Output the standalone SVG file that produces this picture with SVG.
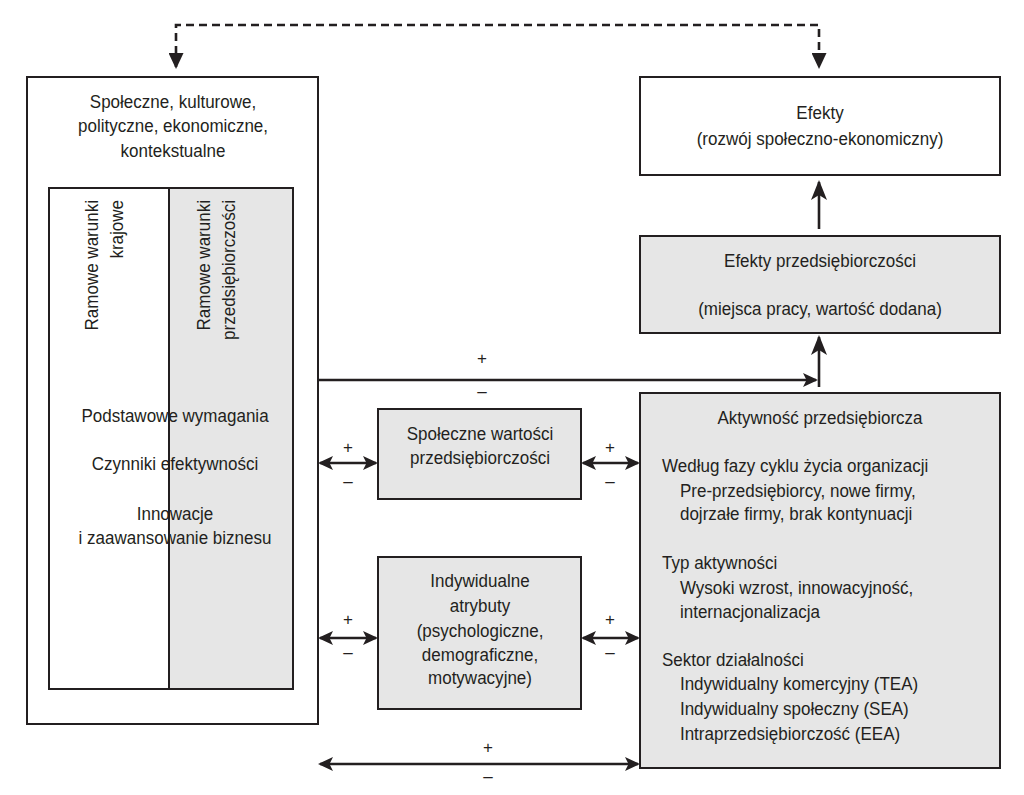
<svg xmlns="http://www.w3.org/2000/svg" width="1024" height="795" viewBox="0 0 1024 795">
<style>
.box{stroke:#231f20;stroke-width:2;}
.w{fill:#ffffff;}
.g{fill:#e6e6e6;}
.t{font-family:"Liberation Sans",Arial,sans-serif;font-size:18.5px;fill:#231f20;}
.c{text-anchor:middle;}
.s{font-family:"Liberation Sans",Arial,sans-serif;font-size:17px;fill:#231f20;text-anchor:middle;}
.ln{fill:none;stroke:#231f20;stroke-width:2.6;}
.dash{stroke-dasharray:8 5;}
</style>
<defs>
<marker id="ah" markerUnits="userSpaceOnUse" markerWidth="15" markerHeight="14" refX="13" refY="7" orient="auto-start-reverse">
<path d="M0,0 L15,7 L0,14 L3.5,7 z" fill="#231f20"/>
</marker>
<marker id="ahBig" markerUnits="userSpaceOnUse" markerWidth="20" markerHeight="16" refX="18" refY="8" orient="auto-start-reverse">
<path d="M0,0 L20,8 L0,16 L5,8 z" fill="#231f20"/>
</marker>
<marker id="ahDash" markerUnits="userSpaceOnUse" markerWidth="16" markerHeight="15" refX="14" refY="7.5" orient="auto-start-reverse">
<path d="M0,0 L16,7.5 L0,15 z" fill="#231f20"/>
</marker>
</defs>
<rect width="1024" height="795" fill="#ffffff"/>

<g id="context">
<rect class="box w" x="27" y="77" width="291" height="647"/>
<g transform="translate(173 0) scale(0.92 1)">
<text class="t c" x="0" y="108">Społeczne, kulturowe,</text>
<text class="t c" x="0" y="132">polityczne, ekonomiczne,</text>
<text class="t c" x="0" y="157">kontekstualne</text>
</g>
</g>

<g id="framework">
<rect class="box w" x="49" y="188" width="120" height="501"/>
<rect class="box g" x="169" y="188" width="124" height="501"/>
<text class="t" text-anchor="end" transform="translate(98 200) rotate(-90) scale(0.92 1)">Ramowe warunki</text>
<text class="t" text-anchor="end" transform="translate(123 200) rotate(-90) scale(0.92 1)">krajowe</text>
<text class="t" text-anchor="end" transform="translate(210 200) rotate(-90) scale(0.92 1)">Ramowe warunki</text>
<text class="t" text-anchor="end" transform="translate(235 200) rotate(-90) scale(0.92 1)">przedsiębiorczości</text>
<g transform="translate(175 0) scale(0.92 1)">
<text class="t c" x="0" y="422">Podstawowe wymagania</text>
<text class="t c" x="0" y="470">Czynniki efektywności</text>
<text class="t c" x="0" y="520">Innowacje</text>
<text class="t c" x="0" y="544">i zaawansowanie biznesu</text>
</g>
</g>

<g id="efekty">
<rect class="box w" x="640" y="77" width="360" height="98"/>
<g transform="translate(820 0) scale(0.92 1)">
<text class="t c" x="0" y="119">Efekty</text>
<text class="t c" x="0" y="145">(rozwój społeczno-ekonomiczny)</text>
</g>
</g>

<g id="efekty-przedsiebiorczosci">
<rect class="box g" x="640" y="236" width="360" height="97"/>
<g transform="translate(820 0) scale(0.92 1)">
<text class="t c" x="0" y="267">Efekty przedsiębiorczości</text>
<text class="t c" x="0" y="315">(miejsca pracy, wartość dodana)</text>
</g>
</g>

<g id="wartosci">
<rect class="box g" x="378" y="409" width="203" height="90"/>
<g transform="translate(480 0) scale(0.92 1)">
<text class="t c" x="0" y="440">Społeczne wartości</text>
<text class="t c" x="0" y="464">przedsiębiorczości</text>
</g>
</g>

<g id="atrybuty">
<rect class="box g" x="378" y="557" width="203" height="152"/>
<g transform="translate(480 0) scale(0.92 1)">
<text class="t c" x="0" y="587">Indywidualne</text>
<text class="t c" x="0" y="612">atrybuty</text>
<text class="t c" x="0" y="637">(psychologiczne,</text>
<text class="t c" x="0" y="661">demograficzne,</text>
<text class="t c" x="0" y="684">motywacyjne)</text>
</g>
</g>

<g id="aktywnosc">
<rect class="box g" x="640" y="393" width="360" height="375"/>
<g transform="translate(820 0) scale(0.92 1)">
<text class="t c" x="0" y="424">Aktywność przedsiębiorcza</text>
</g>
<g transform="translate(662 0) scale(0.92 1)">
<text class="t" x="0" y="472">Według fazy cyklu życia organizacji</text>
<text class="t" x="19.5" y="497">Pre-przedsiębiorcy, nowe firmy,</text>
<text class="t" x="19.5" y="520">dojrzałe firmy, brak kontynuacji</text>
<text class="t" x="0" y="569">Typ aktywności</text>
<text class="t" x="19.5" y="594">Wysoki wzrost, innowacyjność,</text>
<text class="t" x="19.5" y="618">internacjonalizacja</text>
<text class="t" x="0" y="666">Sektor działalności</text>
<text class="t" x="19.5" y="690">Indywidualny komercyjny (TEA)</text>
<text class="t" x="19.5" y="715">Indywidualny społeczny (SEA)</text>
<text class="t" x="19.5" y="740">Intraprzedsiębiorczość (EEA)</text>
</g>
</g>

<g id="connectors">
<path class="ln dash" d="M176,67 V25 H819 V67" marker-start="url(#ahDash)" marker-end="url(#ahDash)"/>
<path class="ln" d="M819,229 V182" marker-end="url(#ahBig)"/>
<path class="ln" d="M819,387 V337" marker-end="url(#ahBig)"/>
<path class="ln" d="M318,380 H816" marker-end="url(#ah)"/>
<path class="ln" d="M320,463 H376" marker-start="url(#ah)" marker-end="url(#ah)"/>
<path class="ln" d="M583,463 H638" marker-start="url(#ah)" marker-end="url(#ah)"/>
<path class="ln" d="M320,638 H376" marker-start="url(#ah)" marker-end="url(#ah)"/>
<path class="ln" d="M583,638 H638" marker-start="url(#ah)" marker-end="url(#ah)"/>
<path class="ln" d="M320,764 H638" marker-start="url(#ah)" marker-end="url(#ah)"/>
<text class="s" x="482" y="364">+</text>
<text class="s" x="482" y="397">–</text>
<text class="s" x="348" y="453">+</text>
<text class="s" x="348" y="487">–</text>
<text class="s" x="610" y="453">+</text>
<text class="s" x="610" y="487">–</text>
<text class="s" x="348" y="625">+</text>
<text class="s" x="348" y="658">–</text>
<text class="s" x="610" y="625">+</text>
<text class="s" x="610" y="658">–</text>
<text class="s" x="488" y="753">+</text>
<text class="s" x="488" y="782">–</text>
</g>
</svg>
